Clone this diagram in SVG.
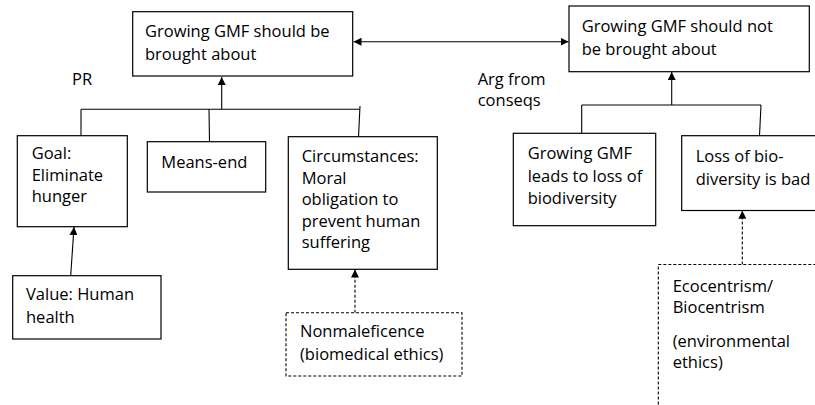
<svg xmlns="http://www.w3.org/2000/svg" width="815" height="405" viewBox="0 0 815 405">
<style>
  .box { fill: #fff; stroke: #000; stroke-width: 1.2; }
  .dbox { fill: #fff; stroke: #000; stroke-width: 1.1; stroke-dasharray: 3 2; }
  .t { font-family: "Open Sans", "Liberation Sans", sans-serif; font-size: 16.5px; fill: #000; }
  .ln { fill: none; stroke: #000; stroke-width: 1.1; }
  .dln { fill: none; stroke: #000; stroke-width: 1.1; stroke-dasharray: 3 2; }
</style>
<defs>
  <marker id="ah" viewBox="0 0 10 10" refX="10" refY="5" markerWidth="8" markerHeight="8" markerUnits="userSpaceOnUse" orient="auto-start-reverse">
    <path d="M0,0 L10,5 L0,10 Z" fill="#000"/>
  </marker>
</defs>
<rect width="815" height="405" fill="#fff"/>
<g id="connectors">
  <line class="ln" x1="353.5" y1="41.7" x2="568.5" y2="41.7" marker-start="url(#ah)" marker-end="url(#ah)"/>
  <line class="ln" x1="221.7" y1="109.3" x2="221.7" y2="77" marker-end="url(#ah)"/>
  <line class="ln" x1="81" y1="109.3" x2="360" y2="109.3"/>
  <line class="ln" x1="81" y1="109.3" x2="81" y2="136"/>
  <line class="ln" x1="209" y1="109.3" x2="209.5" y2="141.7"/>
  <line class="ln" x1="360" y1="106" x2="358.5" y2="137"/>
  <line class="ln" x1="70.7" y1="275.7" x2="74" y2="227" marker-end="url(#ah)"/>
  <line class="dln" x1="355" y1="312.7" x2="355" y2="269.5" marker-end="url(#ah)"/>
  <line class="ln" x1="671.7" y1="105" x2="671.7" y2="72" marker-end="url(#ah)"/>
  <line class="ln" x1="581.7" y1="105" x2="761" y2="105"/>
  <line class="ln" x1="581.7" y1="105" x2="581.7" y2="133.3"/>
  <line class="ln" x1="761" y1="105" x2="759.5" y2="135.7"/>
  <line class="dln" x1="742.3" y1="264.5" x2="742.3" y2="210.7" marker-end="url(#ah)"/>
</g>
<g id="n-pro">
  <rect class="box" x="132.7" y="11.7" width="220" height="64.3"/>
  <text class="t" x="145" y="37">Growing GMF should be</text>
  <text class="t" x="145" y="60">brought about</text>
</g>
<g id="n-con">
  <rect class="box" x="569" y="6" width="240.3" height="65.7"/>
  <text class="t" x="581.7" y="32">Growing GMF should not</text>
  <text class="t" x="581.7" y="55">be brought about</text>
</g>
<g id="lbl-pr">
  <text class="t" x="72" y="85">PR</text>
</g>
<g id="lbl-arg">
  <text class="t" x="477.7" y="85">Arg from</text>
  <text class="t" x="477.7" y="106">conseqs</text>
</g>
<g id="n-goal">
  <rect class="box" x="17.3" y="135.7" width="110" height="91"/>
  <text class="t" x="31.7" y="159.3">Goal:</text>
  <text class="t" x="31.7" y="180.7">Eliminate</text>
  <text class="t" x="31.7" y="201.5">hunger</text>
</g>
<g id="n-means">
  <rect class="box" x="147.3" y="141.7" width="118.4" height="50.3"/>
  <text class="t" x="161.3" y="168">Means-end</text>
</g>
<g id="n-circ">
  <rect class="box" x="288.3" y="136.7" width="149" height="132.6"/>
  <text class="t" x="301.7" y="161.7">Circumstances:</text>
  <text class="t" x="301.7" y="183.5">Moral</text>
  <text class="t" x="301.7" y="205">obligation to</text>
  <text class="t" x="301.7" y="226.7">prevent human</text>
  <text class="t" x="301.7" y="248.3">suffering</text>
</g>
<g id="n-value">
  <rect class="box" x="12.7" y="275.7" width="148.3" height="63.3"/>
  <text class="t" x="26" y="300">Value: Human</text>
  <text class="t" x="26" y="323.3">health</text>
</g>
<g id="n-nonmal">
  <rect class="dbox" x="286" y="312.7" width="176" height="63.3"/>
  <text class="t" x="300" y="337.3">Nonmaleficence</text>
  <text class="t" x="300" y="360">(biomedical ethics)</text>
</g>
<g id="n-leads">
  <rect class="box" x="513.3" y="133.3" width="142.4" height="92.4"/>
  <text class="t" x="527.7" y="159.3">Growing GMF</text>
  <text class="t" x="527.7" y="181.7">leads to loss of</text>
  <text class="t" x="527.7" y="204.3">biodiversity</text>
</g>
<g id="n-loss">
  <rect class="box" x="681.7" y="135.7" width="140" height="74.8"/>
  <text class="t" x="695.7" y="161.7">Loss of bio-</text>
  <text class="t" x="695.7" y="185">diversity is bad</text>
</g>
<g id="n-eco">
  <rect class="dbox" x="658.3" y="264.5" width="170" height="150"/>
  <text class="t" x="672.7" y="291.7">Ecocentrism/</text>
  <text class="t" x="672.7" y="313.3">Biocentrism</text>
  <text class="t" x="672.7" y="346.7">(environmental</text>
  <text class="t" x="672.7" y="368.3">ethics)</text>
</g>
</svg>
